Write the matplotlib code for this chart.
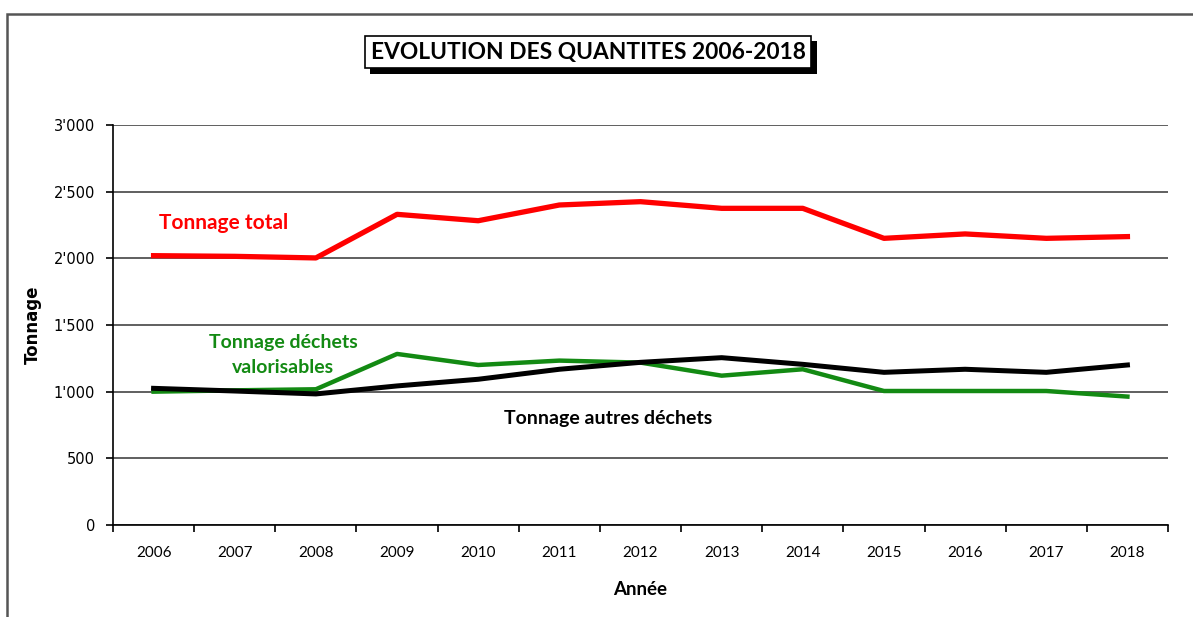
import matplotlib.pyplot as plt
from matplotlib.patches import Rectangle
from matplotlib.ticker import FuncFormatter
import matplotlib.patheffects as pe
import numpy as np

years = ['2006', '2007', '2008', '2009', '2010', '2011', '2012',
         '2013', '2014', '2015', '2016', '2017', '2018']
total = [2020, 2015, 2003, 2330, 2282, 2400, 2425, 2375, 2375, 2150, 2183, 2150, 2163]
valorisables = [1000, 1010, 1018, 1283, 1200, 1233, 1218, 1120, 1168, 1005, 1005, 1005, 963]
autres = [1025, 1005, 983, 1043, 1093, 1168, 1220, 1255, 1205, 1145, 1168, 1145, 1200]
y_ticks = [0, 500, 1000, 1500, 2000, 2500, 3000]

txt_font = 'Lato'

# Swiss style thousands separator, e.g. 2'500
fmt_apos = lambda v, _: "{:,.0f}".format(v).replace(",", "'")

fig = plt.figure(figsize=(11.93, 6.17), dpi=100)
ax = fig.add_axes([113 / 1193, 1 - 525 / 617, 1055 / 1193, 400 / 617])

# outer chart frame
fig.patches.append(Rectangle((7.5 / 1193, -0.05), 1.2, 1 - 13.5 / 617 + 0.05,
                             transform=fig.transFigure, fill=False,
                             edgecolor='#555555', linewidth=1.8))

x = np.arange(len(years))
ax.plot(x, valorisables, color='#138a13', linewidth=3.2, zorder=3)
ax.plot(x, autres, color='black', linewidth=3.6, zorder=4)
ax.plot(x, total, color='#ff0000', linewidth=3.8, zorder=5)

ax.set_xlim(-0.5, len(years) - 0.5)
ax.set_ylim(0, 3000)
ax.set_yticks(y_ticks)
ax.yaxis.set_major_formatter(FuncFormatter(fmt_apos))
ax.grid(axis='y', color='#444444', linewidth=1.2)
ax.set_axisbelow(True)

ax.set_xticks(x)
ax.set_xticklabels(years, fontname=txt_font, fontsize=11)
ax.set_xticks(np.arange(-0.5, len(years)), minor=True)
ax.tick_params(axis='x', which='major', length=0, pad=15)
ax.tick_params(axis='x', which='minor', length=5, width=1.2, color='black')
ax.tick_params(axis='y', length=5, width=1.2, labelsize=10.5, pad=8)

for side in ('top', 'right'):
    ax.spines[side].set_visible(False)
for side in ('left', 'bottom'):
    ax.spines[side].set_linewidth(1.2)
    ax.spines[side].set_color('black')

ax.set_xlabel("Année", fontname=txt_font, fontsize=13.5, fontweight='bold', labelpad=15)
ax.set_ylabel("Tonnage", fontsize=12, fontweight='bold', labelpad=8)

ax.text(0.07, 2265, "Tonnage total", color='#ff0000', fontname=txt_font,
        fontsize=15, fontweight='bold', va='center', ha='left')
ax.text(1.6, 1370, "Tonnage déchets", color='#138a13', fontname=txt_font,
        fontsize=14, fontweight='bold', va='center', ha='center')
ax.text(1.6, 1180, "valorisables", color='#138a13', fontname=txt_font,
        fontsize=14, fontweight='bold', va='center', ha='center')
ax.text(5.6, 800, "Tonnage autres déchets", color='black', fontname=txt_font,
        fontsize=14, fontweight='bold', va='center', ha='center')

title = fig.text(588 / 1193, 1 - 52 / 617, "EVOLUTION DES QUANTITES 2006-2018",
                 fontname=txt_font, fontsize=16.4, fontweight='bold',
                 ha='center', va='center',
                 bbox=dict(boxstyle='square,pad=0.25', facecolor='white',
                           edgecolor='black', linewidth=1.2))
title.get_bbox_patch().set_path_effects([
    pe.SimplePatchShadow(offset=(4, -4), shadow_rgbFace='black', alpha=1.0),
    pe.Normal()])

plt.savefig('out.png', dpi=100)
